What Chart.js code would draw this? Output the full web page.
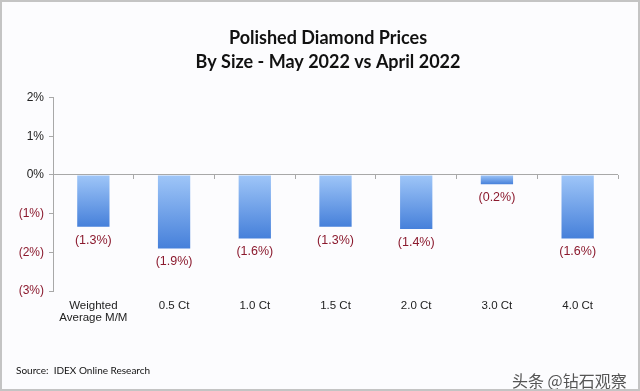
<!DOCTYPE html>
<html>
<head>
<meta charset="utf-8">
<script src="https://cdn.jsdelivr.net/npm/chart.js@4.4.0/dist/chart.umd.min.js"></script>
<style>
  html, body { margin: 0; padding: 0; background: #fcfcfe; }
  #wrap { position: relative; width: 640px; height: 391px; overflow: hidden; background: #fcfcfe; }
  #c { position: absolute; left: 0; top: 0; }
  #frame { position: absolute; left: 0; top: 0; width: 640px; height: 391px; box-sizing: border-box; border: 2px solid #c4c4c4; pointer-events: none; }
  #source { position: absolute; left: 16px; top: 364px; font: 10px Lato, "Liberation Sans", sans-serif; color: #111; white-space: pre; }
  #mark { position: absolute; left: 512px; top: 368px; font: 16px "Noto Sans CJK SC", sans-serif; color: #555; white-space: pre; }
</style>
</head>
<body>
<div id="wrap">
  <canvas id="c" width="640" height="391"></canvas>
  <div id="source">Source:  IDEX Online Research</div>
  <div id="mark">头条 @钻石观察</div>
  <div id="frame"></div>
</div>
<script>
const categories = [["Weighted", "Average M/M"], "0.5 Ct", "1.0 Ct", "1.5 Ct", "2.0 Ct", "3.0 Ct", "4.0 Ct"];
const changes = [-1.34, -1.9, -1.64, -1.34, -1.4, -0.24, -1.64];
const yTicks = [2, 1, 0, -1, -2, -3];
const titleLines = ["Polished Diamond Prices", "By Size - May 2022 vs April 2022"];

const NEG = '#8b1a2e';
const AXIS = '#a8a8a8';

function pct(v, digits) {
  const s = Math.abs(v).toFixed(digits) + '%';
  return v < 0 ? '(' + s + ')' : s;
}

const barLabels = {
  id: 'barLabels',
  afterDatasetsDraw(chart) {
    const ctx = chart.ctx;
    const meta = chart.getDatasetMeta(0);
    ctx.save();
    ctx.font = '12.5px "Liberation Sans", Arial, sans-serif';
    ctx.fillStyle = NEG;
    ctx.textAlign = 'center';
    ctx.textBaseline = 'middle';
    meta.data.forEach((el, i) => {
      const v = chart.data.datasets[0].data[i];
      ctx.fillText(pct(v, 1), el.x, el.y + 13.5);
    });
    ctx.restore();
  }
};

new Chart(document.getElementById('c'), {
  type: 'bar',
  data: {
    labels: categories,
    datasets: [{
      data: changes,
      barPercentage: 0.4,
      categoryPercentage: 1,
      borderWidth: 0,
      backgroundColor: (c) => {
        const chart = c.chart;
        if (c.type !== 'data' || !chart.chartArea || !chart.scales.y) return '#6a9ee6';
        const y = chart.scales.y;
        const y0 = y.getPixelForValue(0);
        const y1 = y.getPixelForValue(c.parsed.y);
        if (!isFinite(y0) || !isFinite(y1) || y0 === y1) return '#6a9ee6';
        const g = chart.ctx.createLinearGradient(0, y0, 0, y1);
        g.addColorStop(0, '#9fc6f8');
        g.addColorStop(1, '#4680da');
        return g;
      }
    }]
  },
  options: {
    responsive: false,
    animation: false,
    layout: { padding: { left: 16, right: 0, top: 0, bottom: 0 } },
    plugins: {
      legend: { display: false },
      tooltip: { enabled: false },
      title: {
        display: true,
        text: titleLines,
        color: '#111',
        font: { family: 'Lato, "Open Sans", sans-serif', size: 18, weight: 'bold', lineHeight: 1.35 },
        padding: { top: 26, bottom: 23 }
      }
    },
    scales: {
      x: {
        type: 'category',
        position: 'bottom',
        grid: { display: false },
        border: { display: false },
        ticks: {
          color: '#222',
          padding: 1,
          maxRotation: 0,
          autoSkip: false,
          font: { family: '"Liberation Sans", Arial, sans-serif', size: 11.5, lineHeight: 1.05 }
        },
        afterFit: (s) => { s.height = 100; }
      },
      x2: {
        type: 'category',
        labels: categories,
        position: { y: 0 },
        offset: true,
        grid: { display: true, offset: true, drawOnChartArea: false, drawTicks: true, tickLength: 4, color: AXIS, tickColor: AXIS },
        border: { display: false },
        ticks: { display: false }
      },
      y: {
        min: -3,
        max: 2,
        afterBuildTicks: (s) => { s.ticks = yTicks.map(v => ({ value: v })); },
        grid: {
          drawTicks: true,
          tickLength: 4,
          tickColor: AXIS,
          lineWidth: 1,
          color: (c) => (c.tick && c.tick.value === 0) ? AXIS : 'rgba(0,0,0,0)'
        },
        border: { display: true, color: AXIS },
        ticks: {
          padding: 5,
          font: { family: '"Liberation Sans", Arial, sans-serif', size: 12 },
          color: (c) => (c.tick && c.tick.value < 0) ? NEG : '#222',
          callback: (v) => pct(v, 0)
        },
        afterFit: (s) => { s.width = 37; }
      },
      yRight: {
        position: 'right',
        min: -3,
        max: 2,
        grid: { display: false },
        border: { display: false },
        ticks: { display: false },
        afterFit: (s) => { s.width = 22; }
      }
    }
  },
  plugins: [barLabels]
});
</script>
</body>
</html>
